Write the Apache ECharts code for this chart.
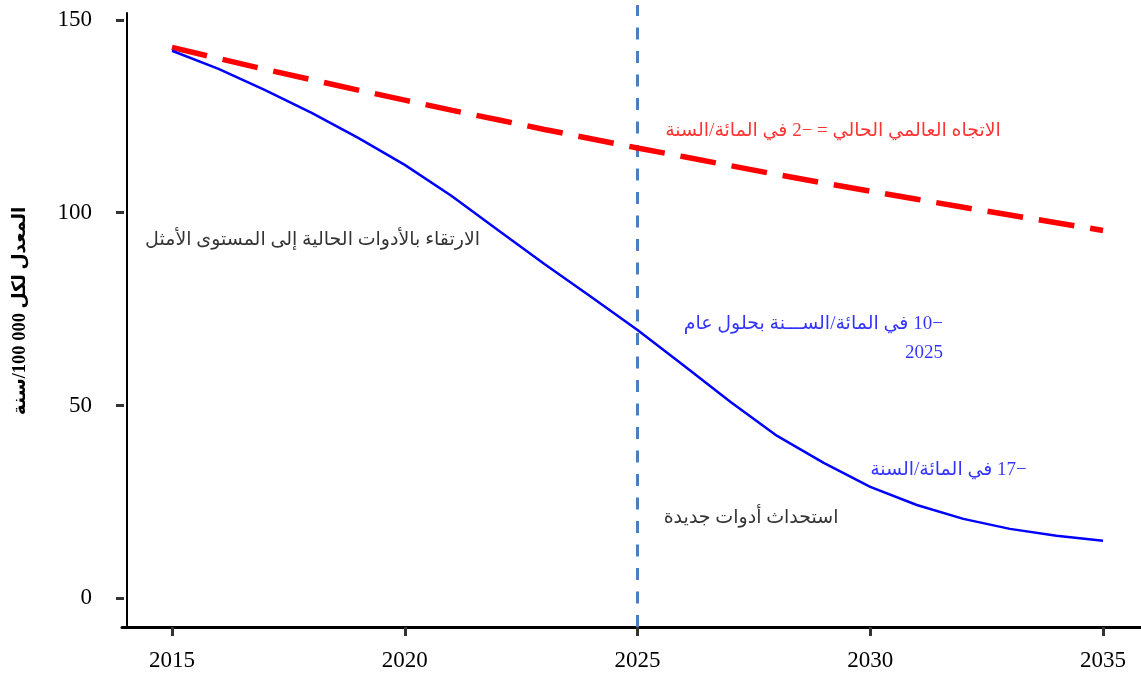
<!DOCTYPE html>
<html>
<head>
<meta charset="utf-8">
<script src="https://cdn.jsdelivr.net/npm/echarts@6/dist/echarts.min.js"></script>
<style>
html,body{margin:0;padding:0;background:#ffffff;}
#chart{width:1141px;height:677px;}
</style>
</head>
<body>
<div id="chart" dir="rtl"></div>
<script>
// ---- data ----
const years = [2015,2016,2017,2018,2019,2020,2021,2022,2023,2024,2025,2026,2027,2028,2029,2030,2031,2032,2033,2034,2035];
const scaleUpSeries = [142.0,137.3,131.8,125.9,119.4,112.4,104.4,95.5,86.7,78.2,69.6,60.3,50.9,42.1,35.1,28.9,24.2,20.6,18.0,16.2,14.9];
const currentTrendSeries = [142.9,140.0,137.2,134.5,131.8,129.2,126.6,124.1,121.6,119.2,116.8,114.5,112.2,109.9,107.7,105.6,103.5,101.4,99.4,97.4,95.4];
const xTickLabels = [2015,2020,2025,2030,2035];
const yTickLabels = [0,50,100,150];
const markerYear = 2025;
const yAxisTitle = 'المعدل لكل 100\u00A0000/سنة';
const noteTexts = [
  'الاتجاه العالمي الحالي = −2 في المائة/السنة',
  'الارتقاء بالأدوات الحالية إلى المستوى الأمثل',
  '−10 في المائة/الســـنة بحلول عام\n2025',
  '−17 في المائة/السنة',
  'استحداث أدوات جديدة'
];
const noteAnchors = [[2029.2,121.3],[2018.02,93.0],[2031.56,67.4],[2031.68,33.3],[2027.44,20.8]];

// ---- layout / style ----
const FONT = "'Liberation Serif', 'DejaVu Sans', serif";
const X_MIN = 2013.926, X_MAX = 2035.816;
const Y_MIN = -7.45, Y_MAX = 151.8;
const MARKER_TOP = 153.9;
const noteStyles = [
  {color:'#ff0000', align:'center'},
  {color:'#000000', align:'center'},
  {color:'#0000ff', align:'right'},
  {color:'#0000ff', align:'center'},
  {color:'#000000', align:'center'}
];

const chart = echarts.init(document.getElementById('chart'), null, {renderer:'canvas'});

const noteData = noteTexts.map((t,i)=>({
  value: noteAnchors[i],
  label: {
    show:true, formatter: t, position:[0,0],
    align: noteStyles[i].align, verticalAlign:'middle',
    color: noteStyles[i].color, fontSize:19, lineHeight:29, fontFamily: FONT
  }
}));

chart.setOption({
  animation:false,
  backgroundColor:'#ffffff',
  grid:{left:122, right:0, top:13, bottom:50, containLabel:false},
  xAxis:{
    type:'value', min:X_MIN, max:X_MAX,
    axisLine:{show:true, onZero:false, lineStyle:{color:'#000000', width:3}},
    axisTick:{show:true, customValues:xTickLabels, length:9, lineStyle:{color:'#333333', width:3}},
    axisLabel:{show:true, customValues:xTickLabels, margin:22, fontSize:23, color:'#000000', fontFamily:FONT,
      formatter: v => String(v)},
    splitLine:{show:false}
  },
  yAxis:[{
    type:'value', position:'left', min:Y_MIN, max:Y_MAX, offset:-2,
    name: yAxisTitle, nameLocation:'middle', nameGap:94, nameRotate:90,
    nameTextStyle:{fontSize:18.5, fontWeight:'bold', color:'#000000', fontFamily:FONT, padding:[0,0,0,18]},
    axisLine:{show:false},
    axisTick:{show:true, customValues:yTickLabels, length:8, lineStyle:{color:'#333333', width:3}},
    axisLabel:{show:true, customValues:yTickLabels, margin:32, fontSize:23, color:'#000000', fontFamily:FONT},
    splitLine:{show:false}
  },{
    type:'value', position:'left', min:Y_MIN, max:Y_MAX, offset:-5,
    axisLine:{show:true, onZero:false, lineStyle:{color:'#000000', width:2}},
    axisTick:{show:false}, axisLabel:{show:false}, splitLine:{show:false}
  }],
  series:[
    {
      name:'marker', type:'line', yAxisIndex:0, clip:false, silent:true,
      data: [[markerYear, Y_MIN],[markerYear, MARKER_TOP]],
      showSymbol:false, symbol:'none',
      lineStyle:{color:'#4a7ebf', width:3, type:[12,11.5], cap:'butt'},
      z:2
    },
    {
      name:'current', type:'line', yAxisIndex:0,
      data: years.map((y,i)=>[y,currentTrendSeries[i]]),
      showSymbol:false, symbol:'none',
      lineStyle:{color:'#ff0000', width:5.5, type:[36,16], cap:'butt'},
      z:3
    },
    {
      name:'scaleup', type:'line', yAxisIndex:0,
      data: years.map((y,i)=>[y,scaleUpSeries[i]]),
      showSymbol:false, symbol:'none',
      lineStyle:{color:'#0000ff', width:2.5},
      z:4
    },
    {
      name:'notes', type:'scatter', yAxisIndex:0, clip:false,
      symbolSize:0, silent:true,
      data: noteData,
      z:5
    }
  ]
});
</script>
</body>
</html>
